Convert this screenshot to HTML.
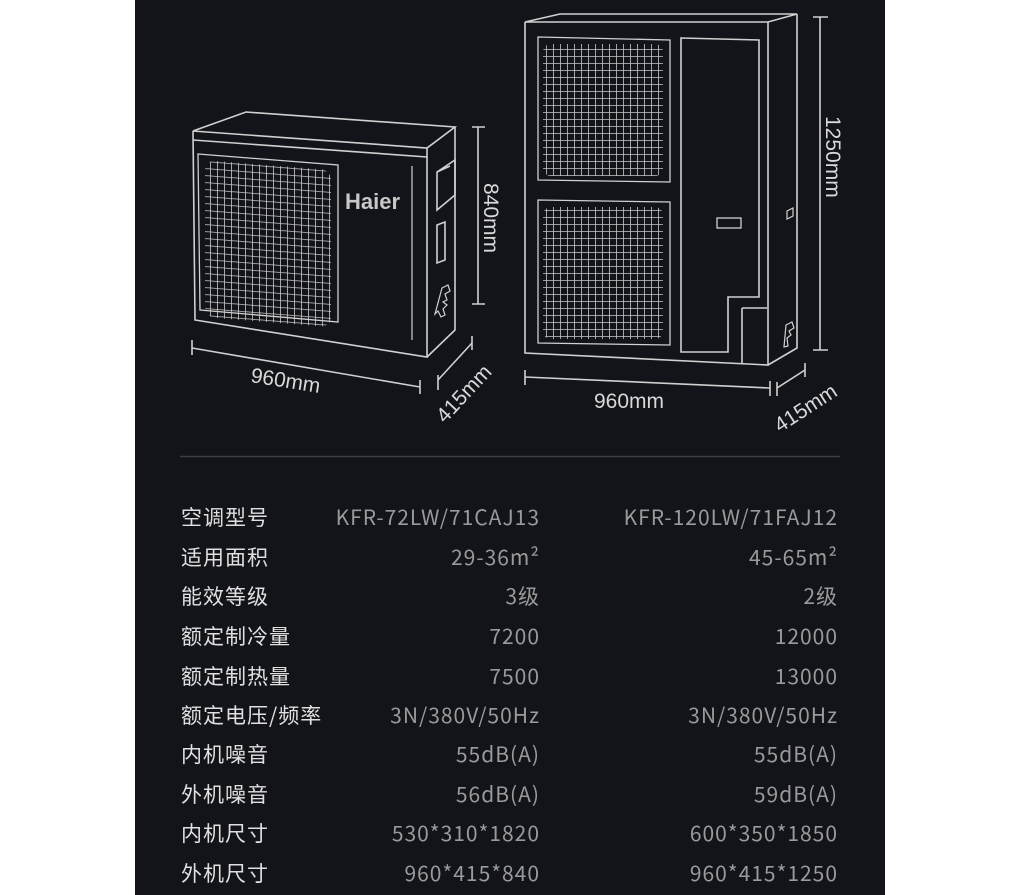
<!DOCTYPE html>
<html><head><meta charset="utf-8"><style>
html,body{margin:0;padding:0;background:#fff;}
body{width:1032px;height:895px;position:relative;overflow:hidden;}
#p{position:absolute;left:135px;top:0;width:750px;height:895px;background:#131419;}
svg{position:absolute;left:0;top:0;}
.t{font-family:"Liberation Sans","Noto Sans CJK SC",sans-serif;}
.n{font-family:"Noto Sans CJK SC","Liberation Sans",sans-serif;}
</style></head><body>
<div id="p"></div>
<svg width="1032" height="895" viewBox="0 0 1032 895">
<defs>
<pattern id="g" width="7" height="7" patternUnits="userSpaceOnUse">
<path d="M0 0H7M0 0V7" stroke="#c8c8c8" stroke-width="1.6" fill="none"/>
</pattern>
</defs>
<g stroke="#d0d0d0" stroke-width="1.6" fill="none">
<path d="M193 131 L246 112 L455 127 L427 148 Z"/>
<path d="M193 131 L195 320 L427 357 L427 148"/>
<path d="M193 140 L427 157"/>
<path d="M427 357 L455 330 L455 127"/>
<path d="M198 154 L338 165 L338 322 L200 310 Z" stroke-width="1.3"/>
<path d="M412 166 L412 340" stroke-width="1.2"/>
<path d="M437 172 L455 160 L455 195 L437 210 Z M437 172 L450 166"/>
<path d="M437 225 L445 222 L445 260 L437 263 Z"/>
<path d="M442 288 l6 -3 l2 6 l-5 3 l2 6 l-4 2 l4 3 l-4 4 l2 6 l-4 2 l-3 -6 l-3 3 Z" stroke-width="1.2"/>
<path d="M478 127 V304 M472 127 H485 M472 304 H485"/>
<path d="M192 348 L420 387 M192 340 V355 M420 380 V394"/>
<path d="M438 380 L472 343 M438 375 V390 M472 336 V350"/>
<path d="M525 22 L560 14 L797 14 L768 22 Z"/>
<path d="M525 22 L525 353 L768 365 L768 22"/>
<path d="M768 365 L797 348 L797 14"/>
<path d="M538 37 L670 40 L670 182 L538 180 Z" stroke-width="1.3"/>
<path d="M538 200 L670 202 L670 345 L538 343 Z" stroke-width="1.3"/>
<path d="M681 38 L759 40 L759 297 L728 297 L728 352 L681 352 Z"/>
<path d="M742 308 L767 308 M742 308 V363"/>
<rect x="717" y="218" width="24" height="10" stroke-width="1.3"/>
<path d="M787 211 l6 -3 v8 l-6 3 Z" stroke-width="1.2"/>
<path d="M786 325 l6 -3 l2 6 l-5 3 l2 4 l-4 3 l1 8 l-4 1 Z" stroke-width="1.2"/>
<path d="M820 17 V350 M813 17 H828 M813 350 H828"/>
<path d="M525 377 L770 388 M525 370 V385 M770 381 V396"/>
<path d="M777 388 L805 370 M777 382 V396 M805 363 V377"/>
<line x1="180" y1="456.5" x2="840" y2="456.5" stroke="#3c3d44" stroke-width="1.5"/>
</g>
<rect x="205" y="160" width="126" height="157" rx="10" fill="url(#g)" transform="skewY(4.5) translate(0,-16)"/>
<rect x="543" y="44" width="120" height="132" rx="8" fill="url(#g)"/>
<rect x="543" y="207" width="120" height="132" rx="8" fill="url(#g)"/>
<g class="t" fill="#d8d8d8" font-size="21">
<text x="345" y="209" font-weight="bold" fill="#c8c8c8" font-size="22">Haier</text>
<text transform="translate(484,183) rotate(90)">840mm</text>
<text transform="translate(250,382) rotate(9)">960mm</text>
<text transform="translate(445,424) rotate(-47)">415mm</text>
<text transform="translate(826,116) rotate(90)">1250mm</text>
<text x="594" y="408">960mm</text>
<text transform="translate(780,433) rotate(-33)">415mm</text>
</g>
<g class="n" font-size="21" letter-spacing="1">
<g fill="#e0e0e0">
<text x="181" y="525">空调型号</text>
<text x="181" y="565">适用面积</text>
<text x="181" y="604">能效等级</text>
<text x="181" y="644">额定制冷量</text>
<text x="181" y="684">额定制热量</text>
<text x="181" y="723">额定电压/频率</text>
<text x="181" y="762">内机噪音</text>
<text x="181" y="802">外机噪音</text>
<text x="181" y="841">内机尺寸</text>
<text x="181" y="881">外机尺寸</text>
</g>
<g fill="#9a9a9a" text-anchor="end">
<text x="540" y="525">KFR-72LW/71CAJ13</text>
<text x="540" y="565">29-36m²</text>
<text x="540" y="604">3级</text>
<text x="540" y="644">7200</text>
<text x="540" y="684">7500</text>
<text x="540" y="723">3N/380V/50Hz</text>
<text x="540" y="762">55dB(A)</text>
<text x="540" y="802">56dB(A)</text>
<text x="540" y="841">530*310*1820</text>
<text x="540" y="881">960*415*840</text>
<text x="838" y="525">KFR-120LW/71FAJ12</text>
<text x="838" y="565">45-65m²</text>
<text x="838" y="604">2级</text>
<text x="838" y="644">12000</text>
<text x="838" y="684">13000</text>
<text x="838" y="723">3N/380V/50Hz</text>
<text x="838" y="762">55dB(A)</text>
<text x="838" y="802">59dB(A)</text>
<text x="838" y="841">600*350*1850</text>
<text x="838" y="881">960*415*1250</text>
</g>
</g>
</svg>
</body></html>
